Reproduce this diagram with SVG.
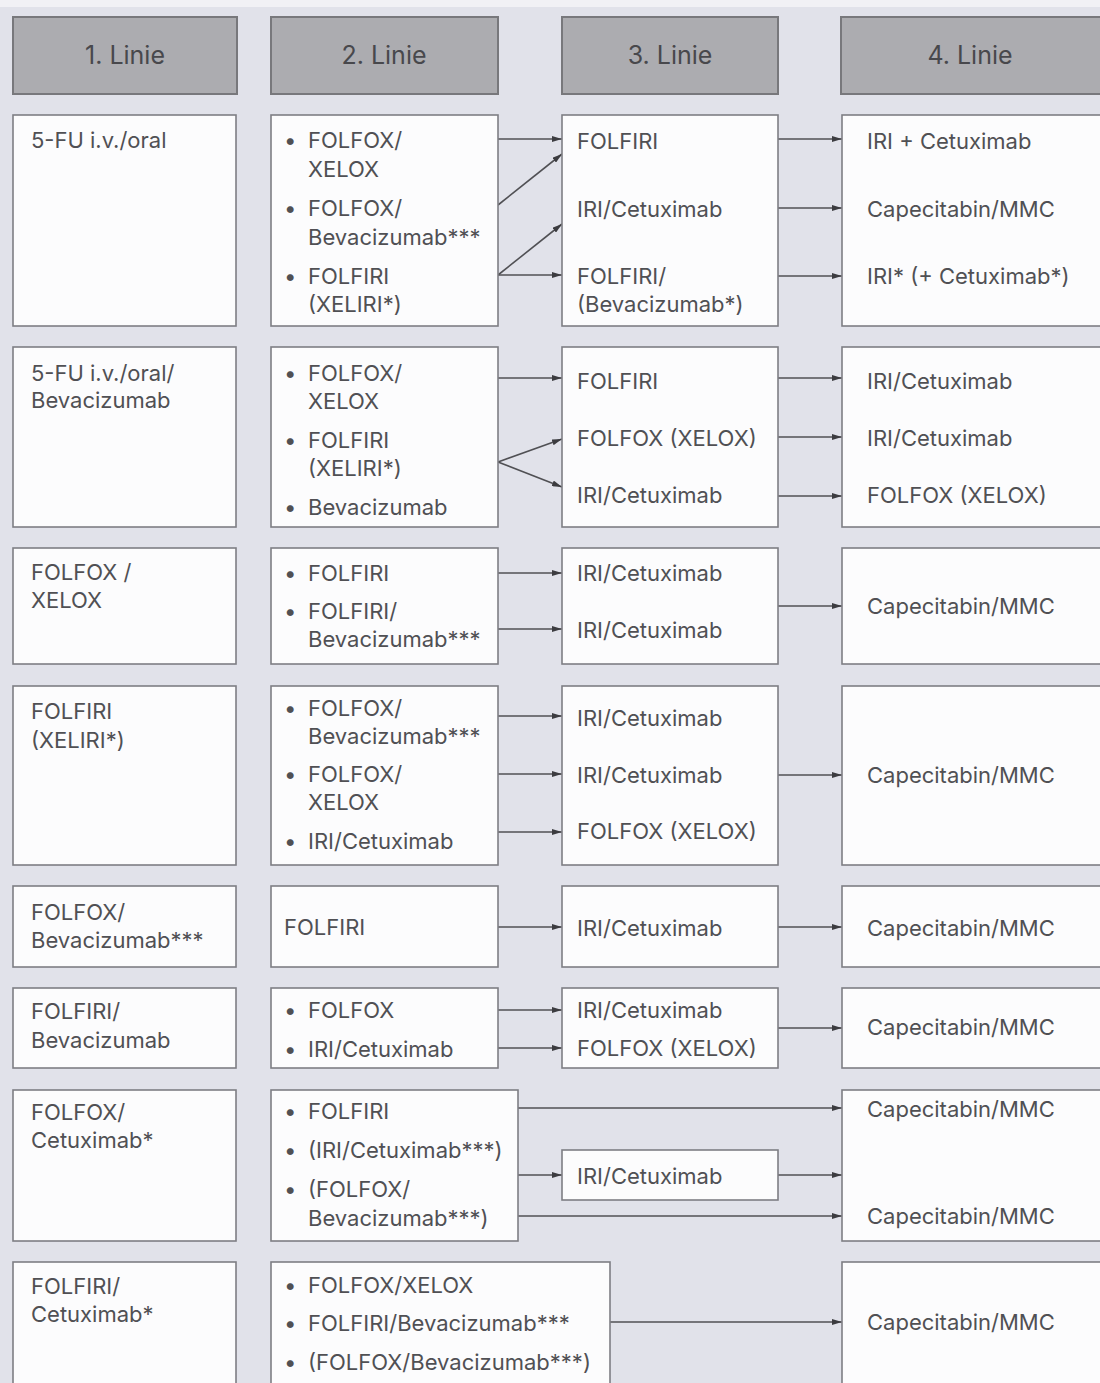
<svg xmlns="http://www.w3.org/2000/svg" width="1100" height="1383" viewBox="0 0 1100 1383">
<defs>
<style>
.bg{fill:#e1e2ea}
.hd{fill:#acacb0;stroke:#78787c;stroke-width:2}
.bx{fill:#fcfcfd;stroke:#7e7e84;stroke-width:1.6}
.ht{font-family:Inter,"Open Sans",sans-serif;font-size:25px;fill:#48484c;text-anchor:middle}
text{font-family:Inter,"Open Sans",sans-serif;font-size:22px;fill:#505054}
.b{font-weight:bold}
.cn{stroke:#505054;stroke-width:1.6;fill:none;marker-end:url(#ah)}
</style>
<marker id="ah" viewBox="0 0 10 6" refX="10" refY="3" markerWidth="10" markerHeight="6" markerUnits="userSpaceOnUse" orient="auto">
<path d="M0,0 L10,3 L0,6 z" fill="#3c3c40"/>
</marker>
</defs>
<rect class="bg" x="0" y="0" width="1100" height="1383"/>
<rect x="0" y="0" width="1100" height="7" fill="#f1f1f5"/>

<g id="headers">
<g id="h1"><rect class="hd" x="13" y="17" width="224" height="77"/><text class="ht" x="125" y="64">1. Linie</text></g>
<g id="h2"><rect class="hd" x="271" y="17" width="227" height="77"/><text class="ht" x="384" y="64">2. Linie</text></g>
<g id="h3"><rect class="hd" x="562" y="17" width="216" height="77"/><text class="ht" x="670" y="64">3. Linie</text></g>
<g id="h4"><rect class="hd" x="841" y="17" width="270" height="77"/><text class="ht" x="970" y="64">4. Linie</text></g>
</g>

<g id="connectors">
<line class="cn" x1="498" y1="139" x2="562" y2="139"/>
<line class="cn" x1="498" y1="205" x2="562" y2="154"/>
<line class="cn" x1="498" y1="275" x2="562" y2="224"/>
<line class="cn" x1="498" y1="275" x2="562" y2="275"/>
<line class="cn" x1="778" y1="139" x2="842" y2="139"/>
<line class="cn" x1="778" y1="208" x2="842" y2="208"/>
<line class="cn" x1="778" y1="276" x2="842" y2="276"/>

<line class="cn" x1="498" y1="378" x2="562" y2="378"/>
<line class="cn" x1="498" y1="462" x2="562" y2="439"/>
<line class="cn" x1="498" y1="462" x2="562" y2="487"/>
<line class="cn" x1="778" y1="378" x2="842" y2="378"/>
<line class="cn" x1="778" y1="437" x2="842" y2="437"/>
<line class="cn" x1="778" y1="496" x2="842" y2="496"/>

<line class="cn" x1="498" y1="573" x2="562" y2="573"/>
<line class="cn" x1="498" y1="629" x2="562" y2="629"/>
<line class="cn" x1="778" y1="606" x2="842" y2="606"/>

<line class="cn" x1="498" y1="716" x2="562" y2="716"/>
<line class="cn" x1="498" y1="774" x2="562" y2="774"/>
<line class="cn" x1="498" y1="832" x2="562" y2="832"/>
<line class="cn" x1="778" y1="775" x2="842" y2="775"/>

<line class="cn" x1="498" y1="927" x2="562" y2="927"/>
<line class="cn" x1="778" y1="927" x2="842" y2="927"/>

<line class="cn" x1="498" y1="1010" x2="562" y2="1010"/>
<line class="cn" x1="498" y1="1048" x2="562" y2="1048"/>
<line class="cn" x1="778" y1="1028" x2="842" y2="1028"/>

<line class="cn" x1="518" y1="1108" x2="842" y2="1108"/>
<line class="cn" x1="518" y1="1175" x2="562" y2="1175"/>
<line class="cn" x1="778" y1="1175" x2="842" y2="1175"/>
<line class="cn" x1="518" y1="1216" x2="842" y2="1216"/>

<line class="cn" x1="610" y1="1322" x2="842" y2="1322"/>
</g>

<!-- Row 1 -->
<g id="r1c1"><rect class="bx" x="13" y="115" width="223" height="211"/><text x="31" y="148">5-FU i.v./oral</text></g>
<g id="r1c2"><rect class="bx" x="271" y="115" width="227" height="211"/>
<text y="148"><tspan class="b" x="285">•</tspan><tspan x="308">FOLFOX/</tspan><tspan x="308" y="177">XELOX</tspan></text>
<text y="216"><tspan class="b" x="285">•</tspan><tspan x="308">FOLFOX/</tspan><tspan x="308" y="245">Bevacizumab***</tspan></text>
<text y="284"><tspan class="b" x="285">•</tspan><tspan x="308">FOLFIRI</tspan><tspan x="308" y="312">(XELIRI*)</tspan></text></g>
<g id="r1c3"><rect class="bx" x="562" y="115" width="216" height="211"/>
<text x="577" y="149">FOLFIRI</text><text x="577" y="217">IRI/Cetuximab</text>
<text x="577" y="284">FOLFIRI/<tspan x="577" y="312">(Bevacizumab*)</tspan></text></g>
<g id="r1c4"><rect class="bx" x="842" y="115" width="270" height="211"/>
<text x="867" y="149">IRI + Cetuximab</text><text x="867" y="217">Capecitabin/MMC</text><text x="867" y="284">IRI* (+ Cetuximab*)</text></g>

<!-- Row 2 -->
<g id="r2c1"><rect class="bx" x="13" y="347" width="223" height="180"/><text x="31" y="381">5-FU i.v./oral/<tspan x="31" y="408">Bevacizumab</tspan></text></g>
<g id="r2c2"><rect class="bx" x="271" y="347" width="227" height="180"/>
<text y="381"><tspan class="b" x="285">•</tspan><tspan x="308">FOLFOX/</tspan><tspan x="308" y="409">XELOX</tspan></text>
<text y="448"><tspan class="b" x="285">•</tspan><tspan x="308">FOLFIRI</tspan><tspan x="308" y="476">(XELIRI*)</tspan></text>
<text y="515"><tspan class="b" x="285">•</tspan><tspan x="308">Bevacizumab</tspan></text></g>
<g id="r2c3"><rect class="bx" x="562" y="347" width="216" height="180"/>
<text x="577" y="389">FOLFIRI</text><text x="577" y="446">FOLFOX (XELOX)</text><text x="577" y="503">IRI/Cetuximab</text></g>
<g id="r2c4"><rect class="bx" x="842" y="347" width="270" height="180"/>
<text x="867" y="389">IRI/Cetuximab</text><text x="867" y="446">IRI/Cetuximab</text><text x="867" y="503">FOLFOX (XELOX)</text></g>

<!-- Row 3 -->
<g id="r3c1"><rect class="bx" x="13" y="548" width="223" height="116"/><text x="31" y="580">FOLFOX /<tspan x="31" y="608">XELOX</tspan></text></g>
<g id="r3c2"><rect class="bx" x="271" y="548" width="227" height="116"/>
<text y="581"><tspan class="b" x="285">•</tspan><tspan x="308">FOLFIRI</tspan></text>
<text y="619"><tspan class="b" x="285">•</tspan><tspan x="308">FOLFIRI/</tspan><tspan x="308" y="647">Bevacizumab***</tspan></text></g>
<g id="r3c3"><rect class="bx" x="562" y="548" width="216" height="116"/>
<text x="577" y="581">IRI/Cetuximab</text><text x="577" y="638">IRI/Cetuximab</text></g>
<g id="r3c4"><rect class="bx" x="842" y="548" width="270" height="116"/>
<text x="867" y="614">Capecitabin/MMC</text></g>

<!-- Row 4 -->
<g id="r4c1"><rect class="bx" x="13" y="686" width="223" height="179"/><text x="31" y="719">FOLFIRI<tspan x="31" y="748">(XELIRI*)</tspan></text></g>
<g id="r4c2"><rect class="bx" x="271" y="686" width="227" height="179"/>
<text y="716"><tspan class="b" x="285">•</tspan><tspan x="308">FOLFOX/</tspan><tspan x="308" y="744">Bevacizumab***</tspan></text>
<text y="782"><tspan class="b" x="285">•</tspan><tspan x="308">FOLFOX/</tspan><tspan x="308" y="810">XELOX</tspan></text>
<text y="849"><tspan class="b" x="285">•</tspan><tspan x="308">IRI/Cetuximab</tspan></text></g>
<g id="r4c3"><rect class="bx" x="562" y="686" width="216" height="179"/>
<text x="577" y="726">IRI/Cetuximab</text><text x="577" y="783">IRI/Cetuximab</text><text x="577" y="839">FOLFOX (XELOX)</text></g>
<g id="r4c4"><rect class="bx" x="842" y="686" width="270" height="179"/>
<text x="867" y="783">Capecitabin/MMC</text></g>

<!-- Row 5 -->
<g id="r5c1"><rect class="bx" x="13" y="886" width="223" height="81"/><text x="31" y="920">FOLFOX/<tspan x="31" y="948">Bevacizumab***</tspan></text></g>
<g id="r5c2"><rect class="bx" x="271" y="886" width="227" height="81"/><text x="284" y="935">FOLFIRI</text></g>
<g id="r5c3"><rect class="bx" x="562" y="886" width="216" height="81"/><text x="577" y="936">IRI/Cetuximab</text></g>
<g id="r5c4"><rect class="bx" x="842" y="886" width="270" height="81"/><text x="867" y="936">Capecitabin/MMC</text></g>

<!-- Row 6 -->
<g id="r6c1"><rect class="bx" x="13" y="988" width="223" height="80"/><text x="31" y="1019">FOLFIRI/<tspan x="31" y="1048">Bevacizumab</tspan></text></g>
<g id="r6c2"><rect class="bx" x="271" y="988" width="227" height="80"/>
<text y="1018"><tspan class="b" x="285">•</tspan><tspan x="308">FOLFOX</tspan></text>
<text y="1057"><tspan class="b" x="285">•</tspan><tspan x="308">IRI/Cetuximab</tspan></text></g>
<g id="r6c3"><rect class="bx" x="562" y="988" width="216" height="80"/>
<text x="577" y="1018">IRI/Cetuximab</text><text x="577" y="1056">FOLFOX (XELOX)</text></g>
<g id="r6c4"><rect class="bx" x="842" y="988" width="270" height="80"/><text x="867" y="1035">Capecitabin/MMC</text></g>

<!-- Row 7 -->
<g id="r7c1"><rect class="bx" x="13" y="1090" width="223" height="151"/><text x="31" y="1120">FOLFOX/<tspan x="31" y="1148">Cetuximab*</tspan></text></g>
<g id="r7c2"><rect class="bx" x="271" y="1090" width="247" height="151"/>
<text y="1119"><tspan class="b" x="285">•</tspan><tspan x="308">FOLFIRI</tspan></text>
<text y="1158"><tspan class="b" x="285">•</tspan><tspan x="308">(IRI/Cetuximab***)</tspan></text>
<text y="1197"><tspan class="b" x="285">•</tspan><tspan x="308">(FOLFOX/</tspan><tspan x="308" y="1226">Bevacizumab***)</tspan></text></g>
<g id="r7c3"><rect class="bx" x="562" y="1150" width="216" height="50"/><text x="577" y="1184">IRI/Cetuximab</text></g>
<g id="r7c4"><rect class="bx" x="842" y="1090" width="270" height="151"/>
<text x="867" y="1117">Capecitabin/MMC</text><text x="867" y="1224">Capecitabin/MMC</text></g>

<!-- Row 8 -->
<g id="r8c1"><rect class="bx" x="13" y="1262" width="223" height="140"/><text x="31" y="1294">FOLFIRI/<tspan x="31" y="1322">Cetuximab*</tspan></text></g>
<g id="r8c2"><rect class="bx" x="271" y="1262" width="339" height="140"/>
<text y="1293"><tspan class="b" x="285">•</tspan><tspan x="308">FOLFOX/XELOX</tspan></text>
<text y="1331"><tspan class="b" x="285">•</tspan><tspan x="308">FOLFIRI/Bevacizumab***</tspan></text>
<text y="1370"><tspan class="b" x="285">•</tspan><tspan x="308">(FOLFOX/Bevacizumab***)</tspan></text></g>
<g id="r8c4"><rect class="bx" x="842" y="1262" width="270" height="140"/><text x="867" y="1330">Capecitabin/MMC</text></g>
</svg>
